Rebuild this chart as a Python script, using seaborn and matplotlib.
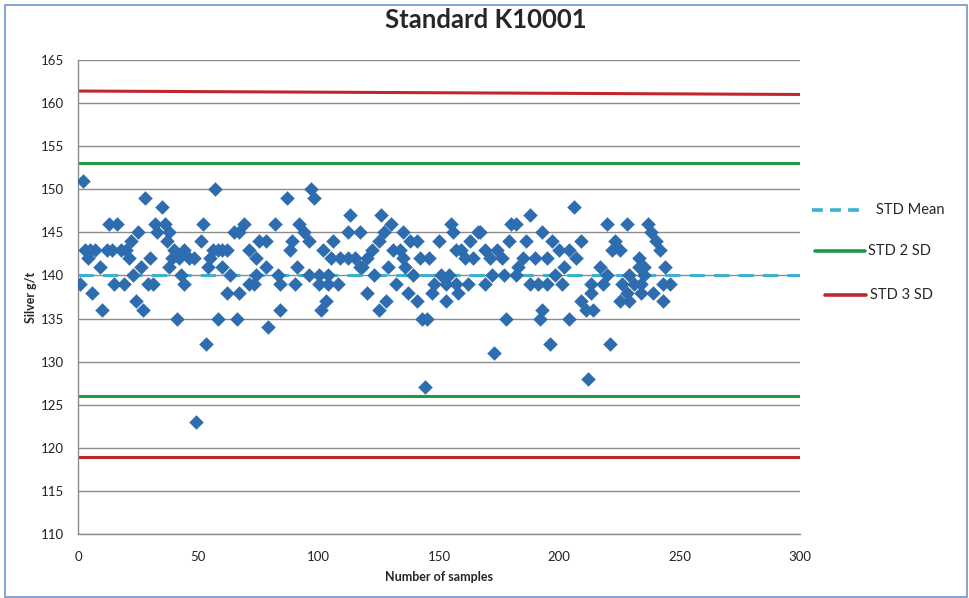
import matplotlib
matplotlib.use("Agg")
import matplotlib.pyplot as plt
import seaborn as sns
import pandas as pd
from matplotlib.lines import Line2D
from matplotlib.patches import Rectangle

# ---- data ----
sample_no = [1, 2, 3, 4, 5, 6, 7, 9, 10, 12, 13, 14, 15, 16, 18, 19, 20, 21, 22, 23, 24, 25, 26, 27, 28,
             29, 30, 31, 32, 33, 35, 36, 37, 38, 38, 39, 41,
             40, 42, 43, 44, 44, 46, 48, 49, 51, 52, 53, 54, 55, 56, 57, 58, 58, 60, 60, 62, 63, 62, 65,
             66, 67, 67, 69, 71, 71, 73, 74, 74, 75, 78, 78, 79,
             82, 83, 84, 84, 87, 88, 89, 90, 91, 92, 94, 96, 96, 97, 98, 100, 100, 101, 102, 103, 104, 104,
             105, 106, 108, 109, 112, 112, 113, 115, 117,
             117, 118, 120, 120, 122, 123, 125, 125, 126, 127, 128, 129, 130, 131, 132, 134, 135, 135, 136,
             137, 138, 139, 141, 141, 142, 143, 144, 145, 146, 147, 148, 150, 151, 153, 153, 154, 155, 156,
             157, 157,
             158, 159, 161, 162, 163, 164, 166, 167, 169, 169, 171, 172, 173, 174, 176, 177, 178, 179, 180,
             182, 182, 183, 185, 186, 188, 188, 190, 191, 192, 193, 193, 195, 195, 196,
             197, 198, 200, 201, 202, 204, 204, 206, 207, 209, 209, 211, 212, 213, 213, 214, 217, 218, 220,
             220, 221, 222, 223, 225, 225, 226, 228, 228, 229, 229, 231, 233, 233, 234,
             235, 234, 237, 238, 240, 242, 244, 243, 246, 239, 243, 235]
silver_gt = [139, 151, 143, 142, 143, 138, 143, 141, 136, 143, 146, 143, 139, 146, 143, 139, 143, 142, 144, 140,
             137, 145, 141, 136, 149, 139, 142, 139, 146, 145, 148, 146, 144, 145, 141, 142, 135,
             143, 142, 140, 143, 139, 142, 142, 123, 144, 146, 132, 141, 142, 143, 150, 143, 135, 143, 141,
             143, 140, 138, 145, 135, 138, 145, 146, 143, 139, 139, 142, 140, 144, 144, 141, 134,
             146, 140, 139, 136, 149, 143, 144, 139, 141, 146, 145, 144, 140, 150, 149, 140, 139, 136, 143,
             137, 140, 139, 142, 144, 139, 142, 142, 145, 147, 142, 145,
             141, 141, 142, 138, 143, 140, 144, 136, 147, 145, 137, 141, 146, 143, 139, 143, 142, 145, 141,
             138, 144, 140, 144, 137, 142, 135, 127, 135, 142, 138, 139, 144, 140, 139, 137, 140, 146, 145,
             143, 139,
             138, 143, 142, 139, 144, 142, 145, 145, 143, 139, 142, 140, 131, 143, 142, 140, 135, 144, 146,
             146, 140, 141, 142, 144, 147, 139, 142, 139, 135, 136, 145, 139, 142, 132,
             144, 140, 143, 139, 141, 143, 135, 148, 142, 144, 137, 136, 128, 139, 138, 136, 141, 139, 146,
             140, 132, 143, 144, 143, 137, 139, 146, 138, 140, 137, 139, 142, 141, 139,
             140, 138, 146, 145, 144, 143, 141, 139, 139, 138, 137, 141]

line_x = [0, 300]
std_mean = [140, 140]
std_2sd_hi = [153, 153]
std_2sd_lo = [126, 126]
std_3sd_hi = [161.4, 161.0]
std_3sd_lo = [118.9, 118.9]

x_ticks = [0, 50, 100, 150, 200, 250, 300]
y_ticks = [110, 115, 120, 125, 130, 135, 140, 145, 150, 155, 160, 165]

title = "Standard K10001"
x_label = "Number of samples"
y_label = "Silver g/t"

# ---- style ----
sns.set_style("white")
plt.rcParams['font.family'] = ['Lato', 'DejaVu Sans']

c_point = "#2E6CB0"
c_mean = "#3FB0D0"
c_2sd = "#1E9A45"
c_3sd = "#C0272D"
c_grid = "#8C8C8C"

fig = plt.figure(figsize=(9.70, 5.98), dpi=100)
ax = fig.add_axes([78 / 970, 1 - 534 / 598, (800 - 78) / 970, (534 - 60) / 598])

df = pd.DataFrame({"n": sample_no, "v": silver_gt})
lines = pd.DataFrame({"x": line_x, "mean": std_mean, "hi2": std_2sd_hi, "lo2": std_2sd_lo,
                      "hi3": std_3sd_hi, "lo3": std_3sd_lo})

sns.lineplot(data=lines, x="x", y="hi3", ax=ax, color=c_3sd, lw=2.2, zorder=2)
sns.lineplot(data=lines, x="x", y="lo3", ax=ax, color=c_3sd, lw=2.2, zorder=2)
sns.lineplot(data=lines, x="x", y="hi2", ax=ax, color=c_2sd, lw=2.2, zorder=2)
sns.lineplot(data=lines, x="x", y="lo2", ax=ax, color=c_2sd, lw=2.2, zorder=2)
sns.lineplot(data=lines, x="x", y="mean", ax=ax, color=c_mean, lw=2.2, zorder=2,
             dashes=False, linestyle=(0, (5, 3)))

sns.scatterplot(data=df, x="n", y="v", ax=ax, marker="D", s=50, color=c_point,
                edgecolor=c_point, linewidth=0.3, zorder=3)

ax.set_xlim(0, 300)
ax.set_ylim(110, 165)
ax.set_xticks(x_ticks)
ax.set_yticks(y_ticks)
ax.yaxis.grid(True, color=c_grid, lw=1)
ax.xaxis.grid(False)
ax.set_axisbelow(True)
for s in ["top", "right"]:
    ax.spines[s].set_visible(False)
for s in ["left", "bottom"]:
    ax.spines[s].set_color(c_grid)
    ax.spines[s].set_linewidth(1)
ax.tick_params(axis="both", labelsize=9.5, colors="#222222", length=0)
ax.tick_params(axis="x", pad=12)
ax.tick_params(axis="y", pad=10)
ax.set_xlabel(x_label, fontsize=9, fontweight="bold", labelpad=6)
ax.set_ylabel(y_label, fontsize=9, fontweight="bold")
ax.yaxis.set_label_coords(-0.057, 0.5)

fig.text(486 / 970, 1 - 20 / 598, title, ha="center", va="center", fontsize=18.5, fontweight="bold")

# legend (outside, right)
leg_items = [
    ([812, 860], 210, c_mean, (0, (3, 2)), "STD Mean", 876),
    ([815, 865], 251, c_2sd, "-", "STD 2 SD", 868),
    ([825, 866], 295, c_3sd, "-", "STD 3 SD", 870),
]
for xs, yy, col, ls, lab, tx in leg_items:
    fig.add_artist(Line2D([xs[0] / 970, xs[1] / 970], [1 - yy / 598, 1 - yy / 598],
                          color=col, lw=2.6, linestyle=ls, transform=fig.transFigure))
    fig.text(tx / 970, 1 - yy / 598, lab, ha="left", va="center", fontsize=10.5)

fig.add_artist(Rectangle((5 / 970, 1 / 598), 962 / 970, 592 / 598, fill=False,
                         edgecolor="#6E95C8", lw=1.2, transform=fig.transFigure))

fig.savefig("out.png", dpi=100)
